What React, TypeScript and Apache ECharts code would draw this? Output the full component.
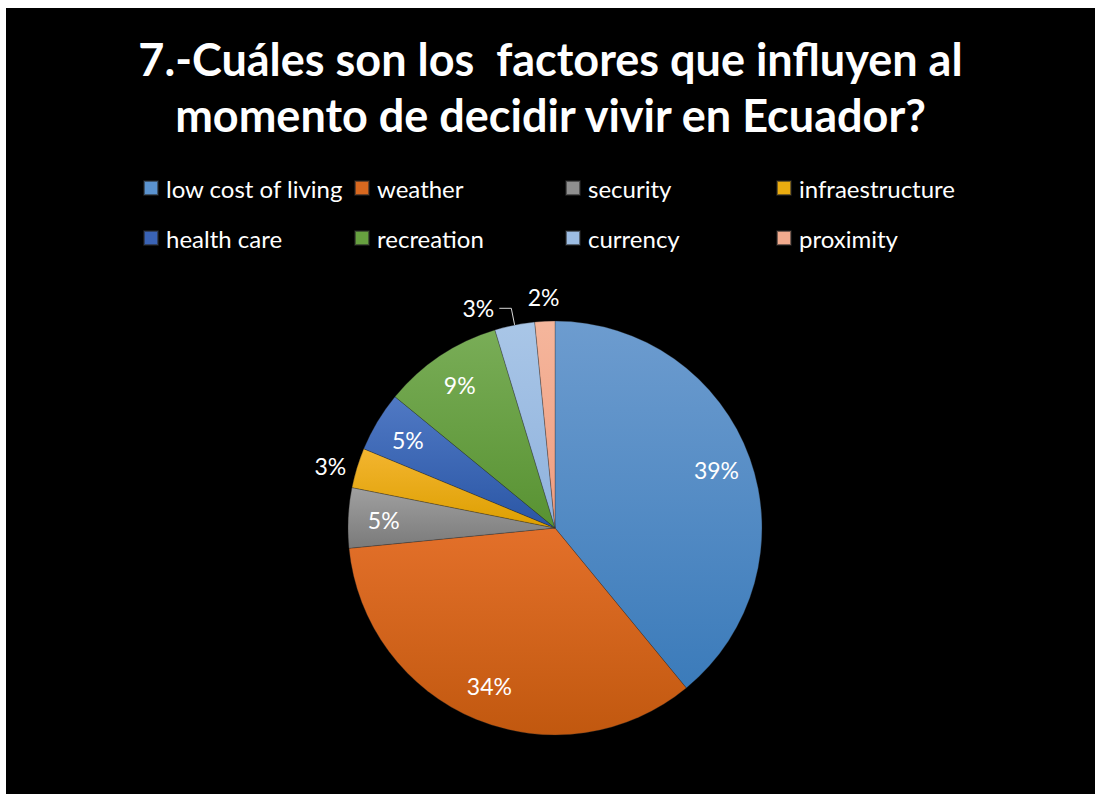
import React, { useEffect, useRef } from "react";
import * as echarts from "echarts";

const titleText = "7.-Cuáles son los  factores que influyen al\nmomento de decidir vivir en Ecuador?";
const categories = [
  "low cost of living",
  "weather",
  "security",
  "infraestructure",
  "health care",
  "recreation",
  "currency",
  "proximity",
];
const counts = [25, 22, 3, 2, 3, 6, 2, 1];
const topColors = ["#6d9ccf", "#e3702a", "#a0a0a0", "#f3b530", "#5079c4", "#79ad57", "#a9c6e7", "#f5b69c"];
const bottomColors = ["#3b7bba", "#c1580f", "#7a7a7a", "#dd9f00", "#2a56a5", "#589232", "#8fb2dd", "#ef9d80"];
const legendColors = ["#5b93cf", "#d8681f", "#8f8f8f", "#eaac10", "#3a63b5", "#67a040", "#9dbde3", "#f2ab8e"];
const innerLabelCats = ["low cost of living", "weather", "security", "health care", "recreation"];

const grad = (i: number) =>
  new echarts.graphic.LinearGradient(0, 0, 0, 1, [
    { offset: 0, color: topColors[i] },
    { offset: 1, color: bottomColors[i] },
  ]);

const fmt = (p: any) => Math.round(p.percent) + "%";

export default function App() {
  const ref = useRef<HTMLDivElement>(null);
  useEffect(() => {
    document.body.style.margin = "0";
    const chart = echarts.init(ref.current!, null, { renderer: "svg" });
    const center = [549, 520];
    const R = 207;
    const labelFont = { color: "#ffffff", fontSize: 23, fontFamily: "Lato" };

    const mainData = categories.map((name, i) => {
      const d: any = { name, value: counts[i], itemStyle: { color: grad(i) } };
      if (name === "currency") {
        d.label = {
          show: true,
          position: "outside",
          ...labelFont,
          formatter: fmt,
          distanceToLabelLine: 5,
          padding: [0, 0, 10, 0],
        };
        d.labelLine = { show: true, length: 17, length2: 12, lineStyle: { color: "#d9d9d9", width: 1 } };
      } else if (name === "infraestructure") {
        d.label = { show: true, position: "outside", ...labelFont, formatter: fmt, distanceToLabelLine: 5 };
        d.labelLine = { show: false, length: 6, length2: 0 };
      } else {
        d.label = { show: false };
        d.labelLine = { show: false };
      }
      return d;
    });

    const innerData = categories.map((name, i) => ({
      name,
      value: counts[i],
      label: { show: innerLabelCats.includes(name) },
    }));
    const outerData = categories.map((name, i) => ({
      name,
      value: counts[i],
      label: { show: name === "proximity" },
    }));

    const legendRow = (names: string[], top: number) => ({
      orient: "horizontal",
      left: 137,
      top,
      padding: 0,
      itemGap: 0,
      itemWidth: 14,
      itemHeight: 14,
      icon: "rect",
      selectedMode: false,
      data: names.map((n) => ({
        name: n,
        itemStyle: { color: legendColors[categories.indexOf(n)] },
      })),
      textStyle: {
        color: "#ffffff",
        fontSize: 24,
        fontFamily: "Lato",
        width: 188,
        overflow: "none",
        lineHeight: 26,
        padding: [0, 0, 0, 3],
      },
    });

    chart.setOption({
      animation: false,
      backgroundColor: "#000000",
      title: {
        text: titleText,
        left: "center",
        top: 18,
        textStyle: {
          color: "#ffffff",
          fontSize: 45,
          fontWeight: "bold",
          fontFamily: "Lato",
          lineHeight: 56,
        },
      },
      legend: [legendRow(categories.slice(0, 4), 167), legendRow(categories.slice(4, 8), 217)],
      series: [
        {
          type: "pie",
          center,
          radius: [0, R],
          startAngle: 90,
          clockwise: true,
          avoidLabelOverlap: false,
          itemStyle: { borderColor: "rgba(40,40,40,0.6)", borderWidth: 0.5 },
          emphasis: { disabled: true },
          data: mainData,
        },
        {
          type: "pie",
          center,
          radius: [130, R],
          startAngle: 90,
          clockwise: true,
          silent: true,
          avoidLabelOverlap: false,
          itemStyle: { color: "rgba(0,0,0,0)", borderWidth: 0 },
          label: { position: "inside", ...labelFont, formatter: fmt },
          labelLine: { show: false },
          emphasis: { disabled: true },
          data: innerData,
        },
        {
          type: "pie",
          center,
          radius: [R, 249],
          startAngle: 90,
          clockwise: true,
          silent: true,
          avoidLabelOverlap: false,
          itemStyle: { color: "rgba(0,0,0,0)", borderWidth: 0 },
          label: { position: "inside", ...labelFont, formatter: fmt },
          labelLine: { show: false },
          emphasis: { disabled: true },
          data: outerData,
        },
      ],
    });
    return () => chart.dispose();
  }, []);
  return (
    <div
      ref={ref}
      style={{ position: "absolute", left: 6, top: 8, width: 1089, height: 786 }}
    />
  );
}
